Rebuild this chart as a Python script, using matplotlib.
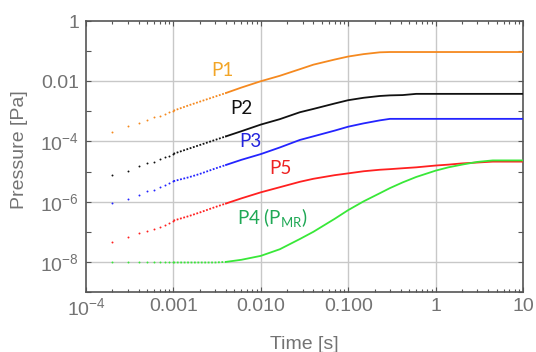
import numpy as np
import matplotlib
matplotlib.use("Agg")
import matplotlib.pyplot as plt
from matplotlib.ticker import FixedLocator, NullFormatter, LogLocator

# time of the first sparse samples [s]
t_dots = [0.0002, 0.0003, 0.0004, 0.0005, 0.0006, 0.0007, 0.0008, 0.0009, 0.0010]
# log10 of pressure [Pa] at those samples
p1_dots = [-3.70, -3.50, -3.40, -3.30, -3.19, -3.14, -3.08, -3.02, -2.98]
p2_dots = [-5.10, -4.98, -4.83, -4.72, -4.67, -4.59, -4.52, -4.47, -4.41]
p3_dots = [-6.06, -5.91, -5.77, -5.66, -5.61, -5.52, -5.44, -5.38, -5.32]
p5_dots = [-7.33, -7.19, -7.03, -6.99, -6.90, -6.83, -6.77, -6.70, -6.63]
p4_dots = [-8.02, -8.02, -8.02, -8.02, -8.02, -8.02, -8.02, -8.02, -8.02]

# dense part of the curves
t_line = [0.001, 0.0015, 0.002, 0.003, 0.004, 0.006, 0.01, 0.0165, 0.028, 0.04,
          0.07, 0.1, 0.15, 0.23, 0.3, 0.42, 0.6, 1.0, 1.4, 2.0, 3.0, 4.5, 10]
p1_line = [-2.98, -2.80, -2.68, -2.51, -2.39, -2.21, -2.00, -1.82, -1.60, -1.45,
           -1.28, -1.18, -1.10, -1.04, -1.03, -1.03, -1.03, -1.03, -1.03, -1.03, -1.03, -1.03, -1.03]
p2_line = [-4.41, -4.24, -4.12, -3.95, -3.83, -3.66, -3.44, -3.26, -3.03, -2.92,
           -2.74, -2.63, -2.55, -2.49, -2.47, -2.46, -2.42, -2.42, -2.42, -2.42, -2.42, -2.42, -2.42]
p3_line = [-5.32, -5.19, -5.08, -4.90, -4.78, -4.61, -4.42, -4.20, -3.95, -3.83,
           -3.64, -3.51, -3.40, -3.30, -3.25, -3.25, -3.25, -3.25, -3.25, -3.25, -3.25, -3.25, -3.25]
p5_line = [-6.63, -6.48, -6.36, -6.18, -6.06, -5.89, -5.69, -5.52, -5.34, -5.24,
           -5.12, -5.06, -4.99, -4.94, -4.92, -4.89, -4.86, -4.80, -4.77, -4.73, -4.70, -4.67, -4.67]
p4_line = [-8.02, -8.02, -8.02, -8.02, -8.00, -7.93, -7.80, -7.58, -7.24, -7.00,
           -6.57, -6.28, -5.99, -5.72, -5.55, -5.36, -5.18, -4.97, -4.86, -4.77, -4.68, -4.63, -4.63]

xtick_vals = [1e-4, 1e-3, 1e-2, 1e-1, 1, 10]
xtick_labels = [r"$\mathregular{10^{-4}}$", "0.001", "0.010", "0.100", "1", "10"]
ytick_exp = [0, -2, -4, -6, -8]
ytick_labels = ["1", "0.01", r"$\mathregular{10^{-4}}$", r"$\mathregular{10^{-6}}$", r"$\mathregular{10^{-8}}$"]

series = [
    ("P1", p1_dots, p1_line, "#f5891f"),
    ("P2", p2_dots, p2_line, "#111111"),
    ("P3", p3_dots, p3_line, "#2424ff"),
    ("P5", p5_dots, p5_line, "#ff2020"),
    ("P4", p4_dots, p4_line, "#38e838"),
]

grey = "#737373"
fig = plt.figure(figsize=(5.36, 3.52), dpi=100)
ax = fig.add_axes([86/536, 1-292/352, (523-86)/536, (292-21)/352])
ax.set_xscale("log")
ax.set_yscale("log")
ax.set_xlim(1e-4, 10)
ax.set_ylim(1e-9, 1)

t_line_arr = np.array(t_line)
sparse = t_line_arr <= 0.004
dense = t_line_arr >= 0.004
for name, pd_, pl_, col in series:
    ax.plot(t_dots, 10.0**np.array(pd_), ".", color=col, ms=2.8, mew=0, zorder=3)
    pl = 10.0**np.array(pl_)
    ax.plot(t_line_arr[sparse], pl[sparse], color=col, lw=1.3, ls=(0, (1, 0.9)), zorder=3)
    ax.plot(t_line_arr[dense], pl[dense], color=col, lw=1.3, zorder=3)

# grid
for xv in xtick_vals[1:-1]:
    ax.axvline(xv, color="#c8c8c8", lw=1, zorder=1)
for k in ytick_exp[1:]:
    ax.axhline(10.0**k, color="#c8c8c8", lw=1, zorder=1)

# ticks
ax.xaxis.set_major_locator(FixedLocator(xtick_vals))
ax.set_xticklabels(xtick_labels)
ax.xaxis.set_minor_locator(LogLocator(base=10, subs=np.arange(2, 10), numticks=20))
ax.xaxis.set_minor_formatter(NullFormatter())
ax.yaxis.set_major_locator(FixedLocator([10.0**k for k in range(-9, 1)]))
ax.set_yticklabels([ytick_labels[ytick_exp.index(k)] if k in ytick_exp else ""
                    for k in range(-9, 1)])
ax.yaxis.set_minor_locator(FixedLocator([]))
ax.tick_params(which="both", direction="in", top=True, right=True, color="#555555",
               labelcolor=grey, labelsize=14, width=0.8)
ax.tick_params(which="major", length=3.5, pad=4)
ax.tick_params(which="minor", length=2)
ax.tick_params(axis="y", pad=5)
for lab in ax.get_xticklabels() + ax.get_yticklabels():
    lab.set_family("Liberation Sans")
for s in ax.spines.values():
    s.set_color("#555555")
    s.set_linewidth(1.2)

fig.text(20/536, 1-150/352, "Pressure [Pa]", rotation=90, ha="center", va="center",
         color=grey, fontsize=14, family="Liberation Sans")
fig.text(304/536, 1-349/352, "Time [s]", ha="center", va="baseline",
         color=grey, fontsize=14, family="Liberation Sans")

# curve labels
lab_font = "Lato"
fs = 13.5
fig.text(222/536, 1-70/352, "P1", color="#f2a526", fontsize=fs, family=lab_font, ha="center", va="center")
fig.text(241/536, 1-109/352, "P2", color="#111111", fontsize=fs, family=lab_font, ha="center", va="center")
fig.text(250/536, 1-141/352, "P3", color="#2323dd", fontsize=fs, family=lab_font, ha="center", va="center")
fig.text(280/536, 1-168/352, "P5", color="#ee2222", fontsize=fs, family=lab_font, ha="center", va="center")
fig.text(237/536, 1-218/352, r"P4 (P$\mathregular{_{MR}}$)", color="#1fa855", fontsize=fs,
         family=lab_font, ha="left", va="center")

fig.savefig("out.png", dpi=100)
